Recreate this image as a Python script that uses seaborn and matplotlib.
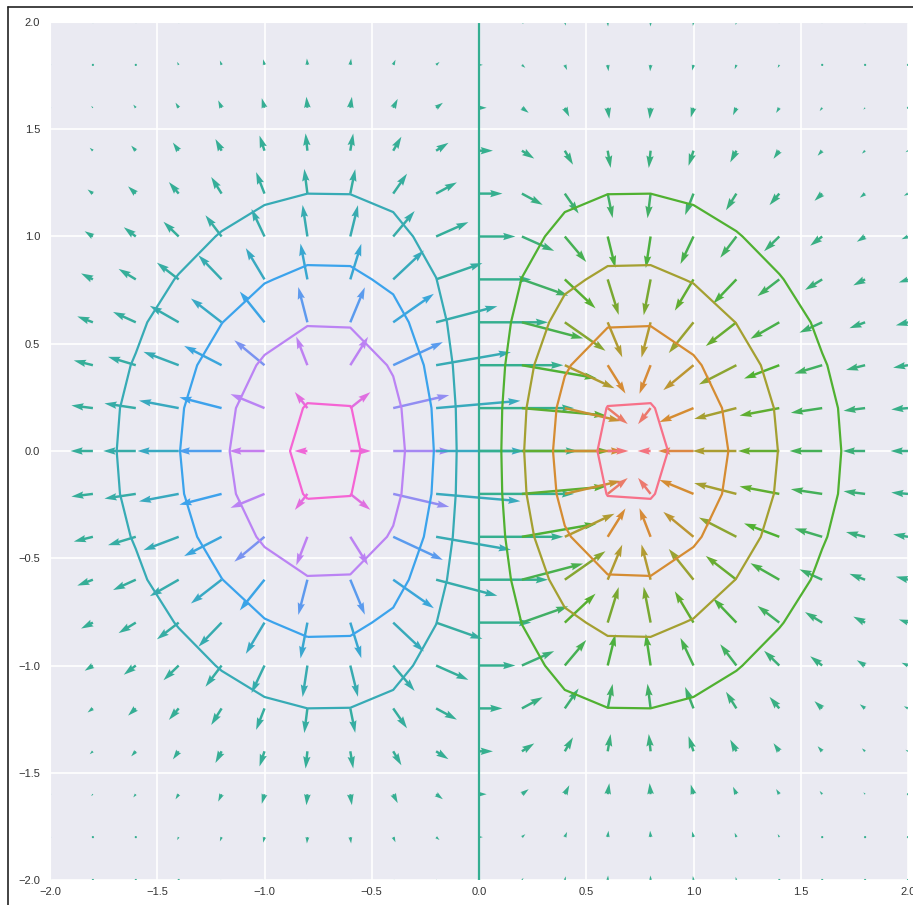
import numpy as np
import matplotlib
matplotlib.use("Agg")
import matplotlib.pyplot as plt
from matplotlib.colors import LinearSegmentedColormap, FuncNorm
from matplotlib.lines import Line2D
import seaborn as sns

# grid and field (dipole-like bump x*exp(-x^2-y^2))
grid_min = -2.0
grid_max = 2.0
grid_n = 21
contour_levels = [-0.4, -0.3, -0.2, -0.1, 0.0, 0.1, 0.2, 0.3, 0.4]
arrow_color_limit = 0.43
arrow_color_power = 1.5
tick_values = [-2.0, -1.5, -1.0, -0.5, 0.0, 0.5, 1.0, 1.5, 2.0]

sns.set_style("darkgrid")
plt.rcParams['font.family'] = ['Liberation Sans', 'DejaVu Sans']

x = np.linspace(grid_min, grid_max, grid_n)
X, Y = np.meshgrid(x, x)
Z = X * np.exp(-X**2 - Y**2)
dy, dx = np.gradient(Z)

# husl colours, low values pink -> high values red
colors = sns.husl_palette(9)[::-1]
cmap = LinearSegmentedColormap.from_list("husl9", colors)


def fwd(v):
    return np.sign(v) * np.abs(v) ** arrow_color_power


def inv(v):
    return np.sign(v) * np.abs(v) ** (1 / arrow_color_power)


arrow_norm = FuncNorm((fwd, inv), vmin=-arrow_color_limit, vmax=arrow_color_limit)

fig = plt.figure(figsize=(9.13, 9.05), dpi=100)
ax = fig.add_axes([50 / 913, 25 / 905, 858 / 913, 858 / 905])

ax.quiver(X, Y, dx, dy, Z, cmap=cmap, norm=arrow_norm)
ax.contour(X, Y, Z, levels=contour_levels, colors=colors, linewidths=1.6)

ax.set_xlim(grid_min, grid_max)
ax.set_ylim(grid_min, grid_max)
labels = [("%.1f" % t).replace("-", "\u2212") for t in tick_values]
ax.set_xticks(tick_values)
ax.set_yticks(tick_values)
ax.set_xticklabels(labels)
ax.set_yticklabels(labels)
ax.tick_params(axis='both', labelsize=8, colors='#333333', length=0)
ax.tick_params(axis='x', pad=5)
ax.tick_params(axis='y', pad=7)
ax.grid(True, color='white', linewidth=1.2)

# thin frame of the screenshot (left and top edges)
fig.add_artist(Line2D([7.5 / 913, 7.5 / 913], [0, 1 - 7.5 / 905], color='#222222', linewidth=1.2))
fig.add_artist(Line2D([7.5 / 913, 1], [1 - 7.5 / 905, 1 - 7.5 / 905], color='#222222', linewidth=1.2))

fig.savefig("out.png", dpi=100)
